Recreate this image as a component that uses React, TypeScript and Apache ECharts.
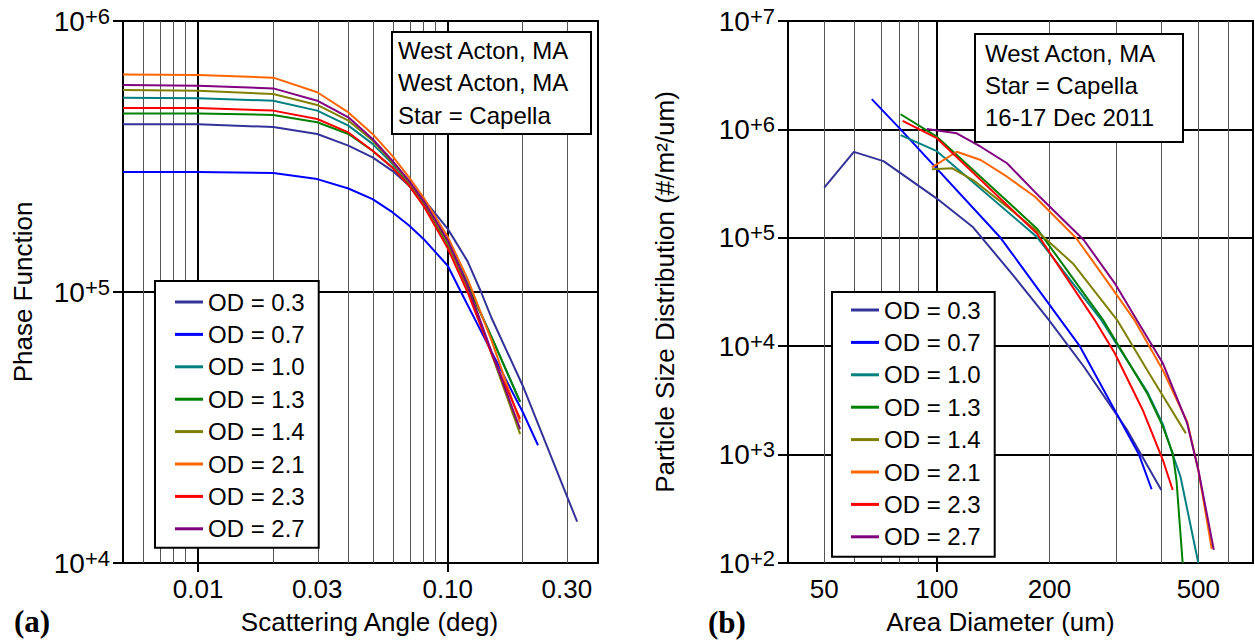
import React, { useEffect, useRef } from 'react';
import * as echarts from 'echarts';

const FONT = "'Liberation Sans', Arial, Helvetica, sans-serif";
const SERIF = "'Liberation Serif', 'Times New Roman', serif";

const seriesNames = ['OD = 0.3', 'OD = 0.7', 'OD = 1.0', 'OD = 1.3', 'OD = 1.4', 'OD = 2.1', 'OD = 2.3', 'OD = 2.7'];
const seriesColors = ['#333399', '#0000ff', '#008080', '#008000', '#808000', '#ff6600', '#ff0000', '#800080'];

// ---- Panel (a): phase function vs scattering angle (deg)
const angleCommon = [0.005, 0.01, 0.02, 0.03, 0.04, 0.05, 0.06, 0.07, 0.08, 0.1, 0.12, 0.15, 0.195];
const angleOd03 = [0.005, 0.01, 0.02, 0.03, 0.04, 0.05, 0.06, 0.07, 0.08, 0.1, 0.12, 0.136, 0.15, 0.2, 0.3, 0.33];
const angleOd07 = [0.005, 0.01, 0.02, 0.03, 0.04, 0.05, 0.06, 0.07, 0.08, 0.1, 0.113, 0.15, 0.2, 0.23];
const phaseOd03 = [4.16e5, 4.16e5, 4.06e5, 3.83e5, 3.47e5, 3.14e5, 2.8e5, 2.47e5, 2.2e5, 1.71e5, 1.3e5, 1.0e5, 8.0e4, 4.5e4, 1.77e4, 1.42e4];
const phaseOd07 = [2.77e5, 2.77e5, 2.75e5, 2.61e5, 2.41e5, 2.2e5, 1.97e5, 1.76e5, 1.57e5, 1.25e5, 1.0e5, 6.0e4, 3.6e4, 2.72e4];
const phaseOd10 = [5.21e5, 5.19e5, 5.08e5, 4.67e5, 4.11e5, 3.52e5, 2.97e5, 2.51e5, 2.14e5, 1.55e5, 1.08e5, 6.8e4, 3.93e4];
const phaseOd13 = [4.56e5, 4.56e5, 4.5e5, 4.23e5, 3.83e5, 3.32e5, 2.88e5, 2.47e5, 2.11e5, 1.5e5, 1.06e5, 6.8e4, 3.93e4];
const phaseOd14 = [5.56e5, 5.53e5, 5.38e5, 4.9e5, 4.29e5, 3.62e5, 3.01e5, 2.54e5, 2.15e5, 1.52e5, 1.03e5, 5.9e4, 2.99e4];
const phaseOd21 = [6.35e5, 6.32e5, 6.18e5, 5.46e5, 4.6e5, 3.83e5, 3.18e5, 2.65e5, 2.23e5, 1.6e5, 1.12e5, 6.6e4, 3.3e4];
const phaseOd23 = [4.77e5, 4.77e5, 4.67e5, 4.35e5, 3.88e5, 3.32e5, 2.88e5, 2.47e5, 2.08e5, 1.45e5, 1.0e5, 5.9e4, 3.4e4];
const phaseOd27 = [5.81e5, 5.77e5, 5.64e5, 5.08e5, 4.41e5, 3.67e5, 3.05e5, 2.57e5, 2.17e5, 1.55e5, 1.06e5, 6.0e4, 3.12e4];

const panelAAngles = [angleOd03, angleOd07, angleCommon, angleCommon, angleCommon, angleCommon, angleCommon, angleCommon];
const panelAValues = [phaseOd03, phaseOd07, phaseOd10, phaseOd13, phaseOd14, phaseOd21, phaseOd23, phaseOd27];

// ---- Panel (b): particle size distribution vs area diameter (um)
const diamOd03 = [50, 60, 72, 100, 125, 160, 198, 247, 322, 398];
const psdOd03 = [2.9e5, 6.2e5, 5.1e5, 2.3e5, 1.25e5, 4.5e4, 1.8e4, 6.5e3, 1.7e3, 471];
const diamOd07 = [67, 80, 148, 241, 347, 375];
const psdOd07 = [1.9e6, 1.0e6, 1.0e5, 1.0e4, 1.0e3, 479];
const diamOd10 = [80, 100, 185, 275, 365, 402, 425, 448, 500];
const psdOd10 = [8.87e5, 6.3e5, 1.02e5, 1.75e4, 3.8e3, 1.9e3, 1.05e3, 625, 100];
const diamOd13 = [80, 100, 185, 278, 365, 402, 427, 437, 454];
const psdOd13 = [1.38e6, 8.57e5, 1.22e5, 1.75e4, 3.67e3, 1.81e3, 1.03e3, 583, 100];
const diamOd14 = [97, 110, 125, 154, 188, 231, 303, 372, 463];
const psdOd14 = [4.29e5, 4.38e5, 3.41e5, 1.94e5, 1.1e5, 5.8e4, 1.75e4, 5.4e3, 1.57e3];
const diamOd21 = [97, 113, 131, 154, 183, 236, 292, 337, 402, 467, 500, 543];
const psdOd21 = [4.47e5, 6.22e5, 5.22e5, 3.66e5, 2.39e5, 9.9e4, 3.54e4, 1.75e4, 6.0e3, 2.0e3, 720, 135];
const diamOd23 = [81, 100, 185, 264, 299, 355, 402, 427];
const psdOd23 = [1.2e6, 8.3e5, 1.1e5, 1.75e4, 8.6e3, 2.58e3, 891, 471];
const diamOd27 = [94, 113, 131, 154, 188, 247, 299, 342, 402, 467, 500, 550];
const psdOd27 = [1.01e6, 9.2e5, 6.92e5, 4.87e5, 2.4e5, 9.55e4, 3.8e4, 1.75e4, 6.95e3, 1.94e3, 721, 132];

const panelBDiams = [diamOd03, diamOd07, diamOd10, diamOd13, diamOd14, diamOd21, diamOd23, diamOd27];
const panelBValues = [psdOd03, psdOd07, psdOd10, psdOd13, psdOd14, psdOd21, psdOd23, psdOd27];

// ---- Axes
const angleRange = [0.005, 0.4];
const angleTickLabels = [0.01, 0.03, 0.1, 0.3];
const angleMajorLines = [0.01, 0.1];
const angleMinorLines = [0.006, 0.007, 0.008, 0.009, 0.02, 0.03, 0.04, 0.05, 0.06, 0.07, 0.08, 0.09, 0.2, 0.3];
const phaseRange = [1e4, 1e6];

const diamRange = [40, 700];
const diamTickLabels = [50, 100, 200, 500];
const diamMajorLines = [100];
const diamMinorLines = [50, 60, 70, 80, 90, 200, 300, 400, 500, 600];
const psdRange = [1e2, 1e7];

const boxATexts = ['West Acton, MA', 'West Acton, MA', 'Star = Capella'];
const boxBTexts = ['West Acton, MA', 'Star = Capella', '16-17 Dec 2011'];

const lg = (v: number) => Math.log10(v);

function gridLines(major: number[], minor: number[]) {
  return [
    ...minor.map((v) => ({ xAxis: lg(v), lineStyle: { color: '#555', width: 1, type: 'solid' } })),
    ...major.map((v) => ({ xAxis: lg(v), lineStyle: { color: '#000', width: 2, type: 'solid' } })),
  ];
}

function xAxisFor(gridIndex: number, range: number[], labels: number[], majors: number[], name: string, fmt: (v: number) => string, namePad: number[]) {
  return {
    type: 'value',
    gridIndex,
    min: lg(range[0]),
    max: lg(range[1]),
    splitLine: { show: false },
    axisLine: { show: true, onZero: false, lineStyle: { color: '#000', width: 2 } },
    axisTick: { show: true, customValues: majors.map(lg), length: 9, lineStyle: { color: '#000', width: 2 } },
    axisLabel: {
      customValues: labels.map(lg),
      formatter: (v: number) => fmt(Math.pow(10, v)),
      fontSize: 26,
      fontFamily: FONT,
      color: '#000',
      margin: 13,
    },
    name,
    nameLocation: 'middle',
    nameGap: 46,
    nameTextStyle: { fontSize: 26, fontFamily: FONT, color: '#000', padding: namePad },
  };
}

function yAxisFor(gridIndex: number, range: number[], name: string, nameGap: number) {
  return {
    type: 'log',
    logBase: 10,
    gridIndex,
    min: range[0],
    max: range[1],
    splitLine: { show: true, lineStyle: { color: '#000', width: 2 } },
    axisLine: { show: true, lineStyle: { color: '#000', width: 2 } },
    axisTick: { show: true, length: 10, lineStyle: { color: '#000', width: 2 } },
    axisLabel: {
      formatter: (v: number) => `{base|10}{sup|+${Math.round(Math.log10(v))}}`,
      margin: 13,
      fontSize: 22,
      fontFamily: FONT,
      color: '#000',
      rich: {
        base: { fontSize: 28, lineHeight: 32, fontFamily: FONT, color: '#000' },
        sup: { fontSize: 22, lineHeight: 22, verticalAlign: 'top', fontFamily: FONT, color: '#000' },
      },
    },
    name,
    nameLocation: 'middle',
    nameGap,
    nameTextStyle: { fontSize: 26, fontFamily: FONT, color: '#000' },
  };
}

function legendFor(left: number, top: number, padding: number[]) {
  return {
    data: seriesNames,
    orient: 'vertical',
    left,
    top,
    padding,
    itemWidth: 28,
    itemHeight: 3,
    icon: 'rect',
    itemGap: 0.4,
    selectedMode: false,
    backgroundColor: '#fff',
    borderColor: '#000',
    borderWidth: 2,
    borderRadius: 0,
    textStyle: { fontSize: 24, lineHeight: 32, fontFamily: FONT, color: '#000' },
  };
}

function textBox(x: number, y: number, w: number, h: number, lines: string[], tx: number, ty: number, lh: number) {
  return [
    { type: 'rect', z: 20, shape: { x, y, width: w, height: h }, style: { fill: '#fff', stroke: '#000', lineWidth: 2 } },
    {
      type: 'text', z: 21, x: tx, y: ty,
      style: { text: lines.join('\n'), fontSize: 24, fontFamily: FONT, lineHeight: lh, fill: '#000', textAlign: 'left', textVerticalAlign: 'top', align: 'left', verticalAlign: 'top' },
    },
  ];
}

function buildOption() {
  const seriesA = seriesNames.map((name, i) => ({
    type: 'line',
    name,
    xAxisIndex: 0,
    yAxisIndex: 0,
    data: panelAAngles[i].map((a, j) => [lg(a), panelAValues[i][j]]),
    symbol: 'none',
    showSymbol: false,
    z: 3,
    lineStyle: { color: seriesColors[i], width: 2 },
    itemStyle: { color: seriesColors[i] },
    ...(i === 0
      ? { markLine: { silent: true, z: 1, symbol: ['none', 'none'], label: { show: false }, emphasis: { disabled: true }, data: gridLines(angleMajorLines, angleMinorLines) } }
      : {}),
  }));
  const seriesB = seriesNames.map((name, i) => ({
    type: 'line',
    name,
    xAxisIndex: 1,
    yAxisIndex: 1,
    data: panelBDiams[i].map((d, j) => [lg(d), panelBValues[i][j]]),
    symbol: 'none',
    showSymbol: false,
    z: 3,
    lineStyle: { color: seriesColors[i], width: 2 },
    itemStyle: { color: seriesColors[i] },
    ...(i === 0
      ? { markLine: { silent: true, z: 1, symbol: ['none', 'none'], label: { show: false }, emphasis: { disabled: true }, data: gridLines(diamMajorLines, diamMinorLines) } }
      : {}),
  }));

  return {
    animation: false,
    backgroundColor: '#fff',
    grid: [
      { left: 123, top: 21, width: 475, height: 542, show: true, borderColor: '#000', borderWidth: 2, backgroundColor: 'transparent' },
      { left: 788, top: 21, width: 465, height: 542, show: true, borderColor: '#000', borderWidth: 2, backgroundColor: 'transparent' },
    ],
    xAxis: [
      xAxisFor(0, angleRange, angleTickLabels, angleMajorLines, 'Scattering Angle (deg)', (v) => v.toFixed(2), [0, 0, 0, 18]),
      xAxisFor(1, diamRange, diamTickLabels, diamMajorLines, 'Area Diameter (um)', (v) => String(Math.round(v)), [0, 40, 0, 0]),
    ],
    yAxis: [
      yAxisFor(0, phaseRange, 'Phase Function', 87),
      yAxisFor(1, psdRange, 'Particle Size Distribution (#/m\u00B2/um)', 110),
    ],
    legend: [legendFor(155, 281, [5, 14, 3, 20]), legendFor(832, 292, [2, 14, 4, 19])],
    series: [...seriesA, ...seriesB],
    graphic: [
      ...textBox(392, 32, 199, 102, boxATexts, 398, 34, 32.5),
      ...textBox(975, 34, 208, 108, boxBTexts, 985, 37, 32),
      { type: 'text', z: 21, x: 14, y: 621, style: { text: '(a)', font: `bold 31px ${SERIF}`, fill: '#000', textVerticalAlign: 'middle', verticalAlign: 'middle' } },
      { type: 'text', z: 21, x: 708, y: 622, style: { text: '(b)', font: `bold 31px ${SERIF}`, fill: '#000', textVerticalAlign: 'middle', verticalAlign: 'middle' } },
    ],
  };
}

export default function App() {
  const ref = useRef<HTMLDivElement>(null);
  useEffect(() => {
    if (!ref.current) return;
    const chart = echarts.init(ref.current, undefined, { renderer: 'svg' });
    chart.setOption(buildOption() as any);
    return () => chart.dispose();
  }, []);
  return <div ref={ref} style={{ position: 'fixed', left: 0, top: 0, width: 1255, height: 642, background: '#fff' }} />;
}
